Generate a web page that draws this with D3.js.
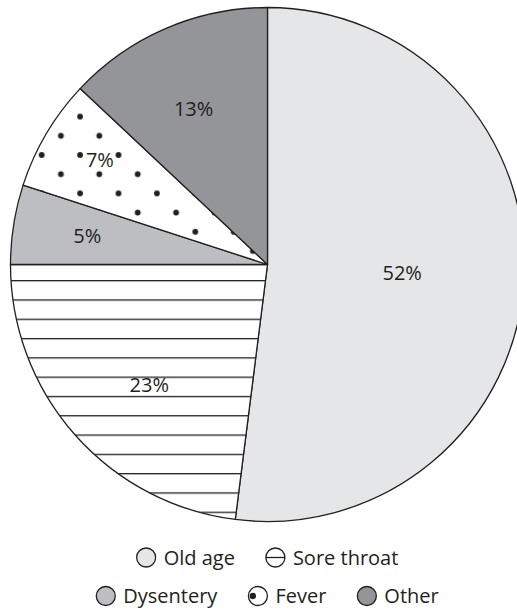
<!DOCTYPE html>
<html>
<head>
<meta charset="utf-8">
<script src="https://cdn.jsdelivr.net/npm/d3@7"></script>
<style>
  html, body { margin: 0; padding: 0; background: #fff; }
  svg { display: block; }
  text { font-family: "Open Sans", "DejaVu Sans", sans-serif; fill: #231f20; }
</style>
</head>
<body>
<svg id="chart" width="517" height="610"></svg>
<script>
// Causes of death, share of all deaths (%)
const categories = ["Old age", "Sore throat", "Dysentery", "Fever", "Other"];
const shares = [52, 23, 5, 7, 13];
const valueLabels = ["52%", "23%", "5%", "7%", "13%"];
const legendRows = [["Old age", "Sore throat"], ["Dysentery", "Fever", "Other"]];

const W = 517, H = 610;
const cx = 267.5, cy = 264.5, R = 257;
const ink = "#231f20";

const svg = d3.select("#chart");
const defs = svg.append("defs");

// Horizontal hatching for "Sore throat"
const hatch = defs.append("pattern")
  .attr("id", "hatch")
  .attr("patternUnits", "userSpaceOnUse")
  .attr("x", 0).attr("y", 16.2 - 0.65)
  .attr("width", 20).attr("height", 19.3);
hatch.append("rect").attr("width", 20).attr("height", 19.3).attr("fill", "#fff");
hatch.append("rect").attr("x", 0).attr("y", 0).attr("width", 20).attr("height", 1.3).attr("fill", ink);

// Staggered dots for "Fever"
const step = 19.2;
const dots = defs.append("pattern")
  .attr("id", "dots")
  .attr("patternUnits", "userSpaceOnUse")
  .attr("x", -225.8).attr("y", -109.5)
  .attr("width", step * 2).attr("height", step * 2);
dots.append("rect").attr("width", step * 2).attr("height", step * 2).attr("fill", "#fff");
[[0, 0], [step, step], [step * 2, 0], [0, step * 2], [step * 2, step * 2]].forEach(([x, y]) =>
  dots.append("circle").attr("cx", x).attr("cy", y).attr("r", 2.9).attr("fill", ink));

const fills = d3.scaleOrdinal()
  .domain(categories)
  .range(["#e5e6e8", "url(#hatch)", "#bdbec1", "url(#dots)", "#949598"]);

const pie = d3.pie().sort(null).value(d => d.value);
const arcs = pie(categories.map((c, i) => ({ name: c, value: shares[i], label: valueLabels[i] })));
const arc = d3.arc().innerRadius(0).outerRadius(R);

const g = svg.append("g").attr("transform", `translate(${cx},${cy})`);

g.selectAll("path.slice")
  .data(arcs)
  .join("path")
  .attr("class", "slice")
  .attr("d", arc)
  .attr("fill", d => fills(d.data.name))
  .attr("stroke", ink)
  .attr("stroke-width", 1.3)
  .attr("stroke-linejoin", "round");

// Label placement along each slice's bisector (fraction of radius, angle nudge in degrees)
const labelPlace = {
  "Old age": [0.525, 0],
  "Sore throat": [0.655, -4],
  "Dysentery": [0.71, 0],
  "Fever": [0.77, 1.5],
  "Other": [0.67, -2]
};

g.selectAll("text.value")
  .data(arcs)
  .join("text")
  .attr("class", "value")
  .attr("text-anchor", "middle")
  .attr("dy", "0.36em")
  .attr("font-size", 20)
  .attr("transform", d => {
    const [f, nudge] = labelPlace[d.data.name];
    const a = (d.startAngle + d.endAngle) / 2 + nudge * Math.PI / 180;
    return `translate(${Math.sin(a) * R * f},${-Math.cos(a) * R * f})`;
  })
  .text(d => d.data.label);

// Legend
const swatchR = 9.5, gapIcon = 8, gapItem = 31;
const rowY = [557.5, 596];
const legend = svg.append("g");

function drawSwatch(sel, name) {
  const fill = fills(name);
  if (name === "Sore throat") {
    sel.append("circle").attr("r", swatchR).attr("fill", "#fff").attr("stroke", ink).attr("stroke-width", 1.3);
    sel.append("line").attr("x1", -swatchR).attr("x2", swatchR).attr("y1", 0).attr("y2", 0)
      .attr("stroke", ink).attr("stroke-width", 1.3);
  } else if (name === "Fever") {
    sel.append("circle").attr("r", swatchR).attr("fill", "#fff").attr("stroke", ink).attr("stroke-width", 1.3);
    sel.append("circle").attr("cx", -swatchR + 4.5).attr("cy", 0).attr("r", 3.2).attr("fill", ink);
  } else {
    sel.append("circle").attr("r", swatchR).attr("fill", fill).attr("stroke", ink).attr("stroke-width", 1.3);
  }
}

legendRows.forEach((row, ri) => {
  const rowG = legend.append("g");
  let x = 0;
  row.forEach((name, i) => {
    const item = rowG.append("g");
    const sw = item.append("g").attr("transform", `translate(${swatchR},0)`);
    drawSwatch(sw, name);
    const t = item.append("text")
      .attr("x", swatchR * 2 + gapIcon)
      .attr("dy", "0.36em")
      .attr("font-size", 20)
      .text(name);
    item.attr("transform", `translate(${x},0)`);
    x += swatchR * 2 + gapIcon + t.node().getComputedTextLength() + gapItem;
  });
  const total = x - gapItem;
  rowG.attr("transform", `translate(${cx - total / 2},${rowY[ri]})`);
});
</script>
</body>
</html>
